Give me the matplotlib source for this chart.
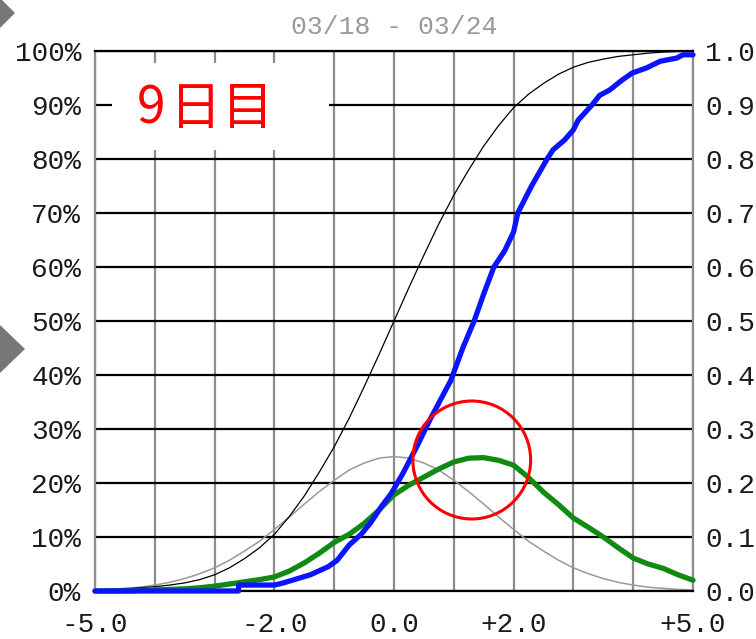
"""Cumulative distribution chart, 03/18 - 03/24."""

import matplotlib.pyplot as plt
from matplotlib.patches import Ellipse, Polygon, Rectangle

# ---- data ----
grid_x = [-5.0, -4.75, -4.5, -4.25, -4.0, -3.75, -3.5, -3.25, -3.0, -2.75,
          -2.5, -2.25, -2.0, -1.75, -1.5, -1.25, -1.0, -0.75, -0.5, -0.25,
          0.0, 0.25, 0.5, 0.75, 1.0, 1.25, 1.5, 1.75, 2.0, 2.25,
          2.5, 2.75, 3.0, 3.25, 3.5, 3.75, 4.0, 4.25, 4.5, 4.75, 5.0]

ref_cdf = [0.002, 0.003, 0.004, 0.006, 0.008, 0.011, 0.015, 0.021, 0.030, 0.043,
           0.060, 0.080, 0.105, 0.138, 0.176, 0.220, 0.267, 0.320, 0.378, 0.438,
           0.500, 0.562, 0.622, 0.680, 0.733, 0.780, 0.824, 0.862, 0.895, 0.920,
           0.940, 0.957, 0.970, 0.979, 0.985, 0.990, 0.993, 0.996, 0.998, 0.999, 1.0]

ref_pdf = [0.002, 0.003, 0.005, 0.007, 0.011, 0.016, 0.023, 0.032, 0.043, 0.057,
           0.074, 0.092, 0.114, 0.137, 0.161, 0.184, 0.205, 0.224, 0.237, 0.246,
           0.249, 0.246, 0.237, 0.224, 0.205, 0.184, 0.161, 0.137, 0.114, 0.092,
           0.074, 0.057, 0.043, 0.032, 0.023, 0.016, 0.011, 0.007, 0.005, 0.003, 0.002]

obs_pdf = [0.0, 0.0, 0.0, 0.001, 0.002, 0.003, 0.004, 0.006, 0.009, 0.013,
           0.017, 0.021, 0.026, 0.037, 0.052, 0.070, 0.090, 0.105, 0.125, 0.150,
           0.178, 0.196, 0.211, 0.226, 0.239, 0.246, 0.247, 0.242, 0.233, 0.210,
           0.183, 0.160, 0.135, 0.118, 0.100, 0.080, 0.061, 0.050, 0.042, 0.030, 0.020]

obs_cdf_x = [-5.0, -2.6, -2.6, -2.0, -1.85, -1.7, -1.4, -1.1, -0.95, -0.75,
             -0.55, -0.4, -0.2, -0.05, 0.15, 0.38, 0.6, 0.95, 1.15, 1.34,
             1.5, 1.67, 1.85, 2.0, 2.07, 2.3, 2.56, 2.66, 2.85, 3.0,
             3.08, 3.31, 3.44, 3.61, 3.8, 3.98, 4.23, 4.45, 4.73, 4.83, 5.0]
obs_cdf_y = [0.0, 0.0, 0.011, 0.011, 0.015, 0.02, 0.03, 0.045, 0.057, 0.085,
             0.105, 0.125, 0.158, 0.18, 0.218, 0.267, 0.317, 0.39, 0.45, 0.50,
             0.55, 0.60, 0.63, 0.665, 0.70, 0.75, 0.80, 0.817, 0.835, 0.854,
             0.872, 0.90, 0.918, 0.928, 0.945, 0.959, 0.969, 0.981, 0.987, 0.993, 0.993]

x_ticks = [-5, -4, -3, -2, -1, 0, 1, 2, 3, 4, 5]
x_labels = ["-5.0", "", "", "-2.0", "", "0.0", "", "+2.0", "", "", "+5.0"]
y_ticks = [i / 10 for i in range(11)]
left_labels = [f"{i * 10}%" for i in range(11)]
right_labels = [f"{i / 10:.1f}" for i in range(11)]

title = "03/18 - 03/24"
badge = "9日目"

# ---- figure ----
W, H = 756, 639
fig = plt.figure(figsize=(W / 100, H / 100), dpi=100)
ax = fig.add_axes([95 / W, 1 - 591 / H, 598 / W, 540 / H])
ax.set_xlim(-5, 5)
ax.set_ylim(0, 1)

mono = "Liberation Mono"
lbl_color = "#1a1a1a"

ax.set_xticks(x_ticks)
ax.set_xticklabels(x_labels, family=mono, fontsize=20, color=lbl_color)
ax.set_yticks(y_ticks)
ax.set_yticklabels(left_labels, family=mono, fontsize=20, color=lbl_color)
ax.tick_params(axis="both", length=0)
ax.tick_params(axis="y", pad=10)
ax.tick_params(axis="x", pad=15)

ax.set_axisbelow(True)
ax.grid(axis="x", color="#8c8c8c", linewidth=1.6)
ax.grid(axis="y", color="black", linewidth=1.6)
for side in ("left", "right"):
    ax.spines[side].set_color("#8c8c8c")
    ax.spines[side].set_linewidth(1.6)
for side in ("top", "bottom"):
    ax.spines[side].set_color("black")
    ax.spines[side].set_linewidth(1.6)

ax2 = ax.twinx()
ax2.set_ylim(0, 1)
ax2.set_yticks(y_ticks)
ax2.set_yticklabels(right_labels, family=mono, fontsize=20, color=lbl_color)
ax2.tick_params(axis="y", length=0, pad=9)
for s in ax2.spines.values():
    s.set_visible(False)

# white label box covering the grid
ax.add_patch(Rectangle((112 / W, 1 - 150 / H), 217 / W, 87 / H,
                       transform=fig.transFigure, facecolor="white",
                       edgecolor="none", zorder=1))
# wide letter spacing as in the original badge
for ch, cx in zip(badge, (151, 196, 248)):
    fig.text(cx / W, 1 - 109 / H, ch, color="red", fontsize=37,
             family=["Noto Sans CJK JP", "DejaVu Sans"], ha="center",
             va="center", zorder=5)

# curves
ax.plot(grid_x, ref_pdf, color="#999999", linewidth=1.1, zorder=2)
ax.plot(grid_x, ref_cdf, color="black", linewidth=0.9, zorder=2)
ax.plot(grid_x, obs_pdf, color="#118a11", linewidth=3.8, zorder=3,
        solid_capstyle="round", clip_on=False)
ax.plot(obs_cdf_x, obs_cdf_y, color="#0a14ff", linewidth=3.8, zorder=4,
        solid_capstyle="round", clip_on=False)

# red circle highlight
ax.add_patch(Ellipse((1.30, 0.2426), 1.97, 0.2185, facecolor="none",
                     edgecolor="red", linewidth=2.2, zorder=6))

fig.text(394 / W, 1 - 27 / H, title, color="#999999", fontsize=19,
         family=mono, ha="center", va="center")

# grey arrow markers on the left edge
for pts in ([(0, -2), (15, 13), (0, 28)], [(0, 325), (25, 349), (0, 373)]):
    fig.patches.append(Polygon([(px / W, 1 - py / H) for px, py in pts],
                               closed=True, transform=fig.transFigure,
                               facecolor="#777777", edgecolor="none"))

fig.savefig("out.png", dpi=100)
plt.close(fig)
